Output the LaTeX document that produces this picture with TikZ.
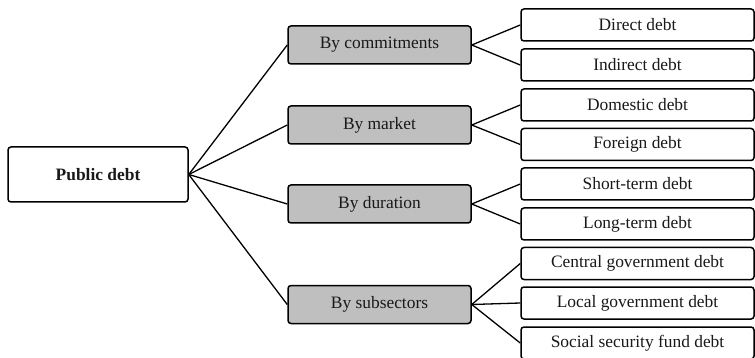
\documentclass[tikz,border=0pt]{standalone}
\usepackage{fontspec}
\setmainfont{Liberation Serif}
\begin{document}
\begin{tikzpicture}[x=1pt,y=-1pt,
  base/.style={draw=black, line width=1.5pt, rounded corners=3pt, inner sep=0pt, font=\fontsize{17.4}{20}\selectfont, text=black!90},
  rootbox/.style={base, fill=white, minimum width=180pt, minimum height=55pt, font=\fontsize{17.4}{20}\selectfont\bfseries},
  midbox/.style={base, fill=black!25, minimum width=183pt, minimum height=38pt},
  leafbox/.style={base, fill=white, minimum width=233pt, minimum height=32pt},
  link/.style={draw=black, line width=1.3pt}]
\useasboundingbox (0,0) rectangle (755,358);
\node[rootbox] (root) at (98,174.5) {Public debt};
\node[midbox] (m1) at (379.5,45) {By commitments};
\node[midbox] (m2) at (379.5,125) {By market};
\node[midbox] (m3) at (379.5,204) {By duration};
\node[midbox] (m4) at (379.5,304.5) {By subsectors};
\node[leafbox] (l1) at (637.5,25) {Direct debt};
\node[leafbox] (l2) at (637.5,65) {Indirect debt};
\node[leafbox] (l3) at (637.5,105) {Domestic debt};
\node[leafbox] (l4) at (637.5,144.5) {Foreign debt};
\node[leafbox] (l5) at (637.5,184) {Short-term debt};
\node[leafbox] (l6) at (637.5,224) {Long-term debt};
\node[leafbox] (l7) at (637.5,263.5) {Central government debt};
\node[leafbox] (l8) at (637.5,303) {Local government debt};
\node[leafbox] (l9) at (637.5,343) {Social security fund debt};
\foreach \m in {m1,m2,m3,m4} \draw[link] (root.east) -- (\m.west);
\draw[link] (m1.east) -- (l1.west);
\draw[link] (m1.east) -- (l2.west);
\draw[link] (m2.east) -- (l3.west);
\draw[link] (m2.east) -- (l4.west);
\draw[link] (m3.east) -- (l5.west);
\draw[link] (m3.east) -- (l6.west);
\draw[link] (m4.east) -- (l7.west);
\draw[link] (m4.east) -- (l8.west);
\draw[link] (m4.east) -- (l9.west);
\end{tikzpicture}
\end{document}
